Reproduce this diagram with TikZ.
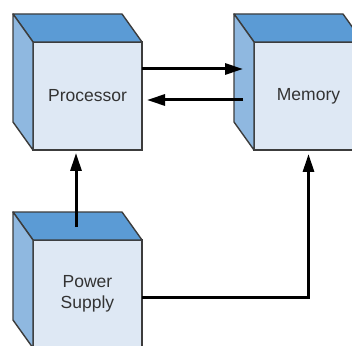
\documentclass[tikz,border=0pt]{standalone}
\usepackage{fontspec}
\setmainfont{Liberation Sans}
\usetikzlibrary{positioning,arrows.meta}
\definecolor{topblue}{HTML}{5B9BD5}
\definecolor{sideblue}{HTML}{8FB8E0}
\definecolor{frontblue}{HTML}{DEE8F4}
\definecolor{edgegrey}{HTML}{3C3C3C}
\newcommand{\cubeback}[1]{%
  \draw[face,fill=topblue] (#1.north west) -- (#1.north east) -- ++(-20pt,28pt) -- ([shift={(-20pt,28pt)}]#1.north west) -- cycle;
  \draw[face,fill=sideblue] (#1.north west) -- (#1.south west) -- ++(-20pt,28pt) -- ([shift={(-20pt,28pt)}]#1.north west) -- cycle;}
\begin{document}
\begin{tikzpicture}
            [box/.style ={draw=edgegrey,line width=1.4pt,fill=frontblue,minimum width=109pt,minimum height=108pt,outer sep=0pt,align=center,text=black!80,font=\fontsize{17.5}{21}\selectfont},
             face/.style ={draw=edgegrey,line width=1.4pt,line join=round},
             arr/.style ={line width=3pt,-{Triangle[length=18pt,width=11pt]}}]
            \useasboundingbox (0,0) rectangle (352pt,345pt);
            \node[box] (proc) at (87.5pt,249pt) {Processor};
            \node[box] (mem)[right=112pt of proc] {Memory};
            \node[box] (psu)[below=90pt of proc] {Power\\Supply};
            \cubeback{proc}
            \cubeback{mem}
            \cubeback{psu}
            \draw[arr] ([yshift=27pt]proc.east) -- ([shift={(-11pt,27pt)}]mem.west);
            \draw[arr] ([shift={(-11pt,-4pt)}]mem.west) -- ([shift={(5pt,-4pt)}]proc.east);
            \draw[arr] ([shift={(-11.5pt,13pt)}]psu.north) -- ([shift={(-11.5pt,-3pt)}]proc.south);
            \draw[arr,line join=miter] ([yshift=-3pt]psu.east) -| ([yshift=-4pt]mem.south);
        \end{tikzpicture}
\end{document}
